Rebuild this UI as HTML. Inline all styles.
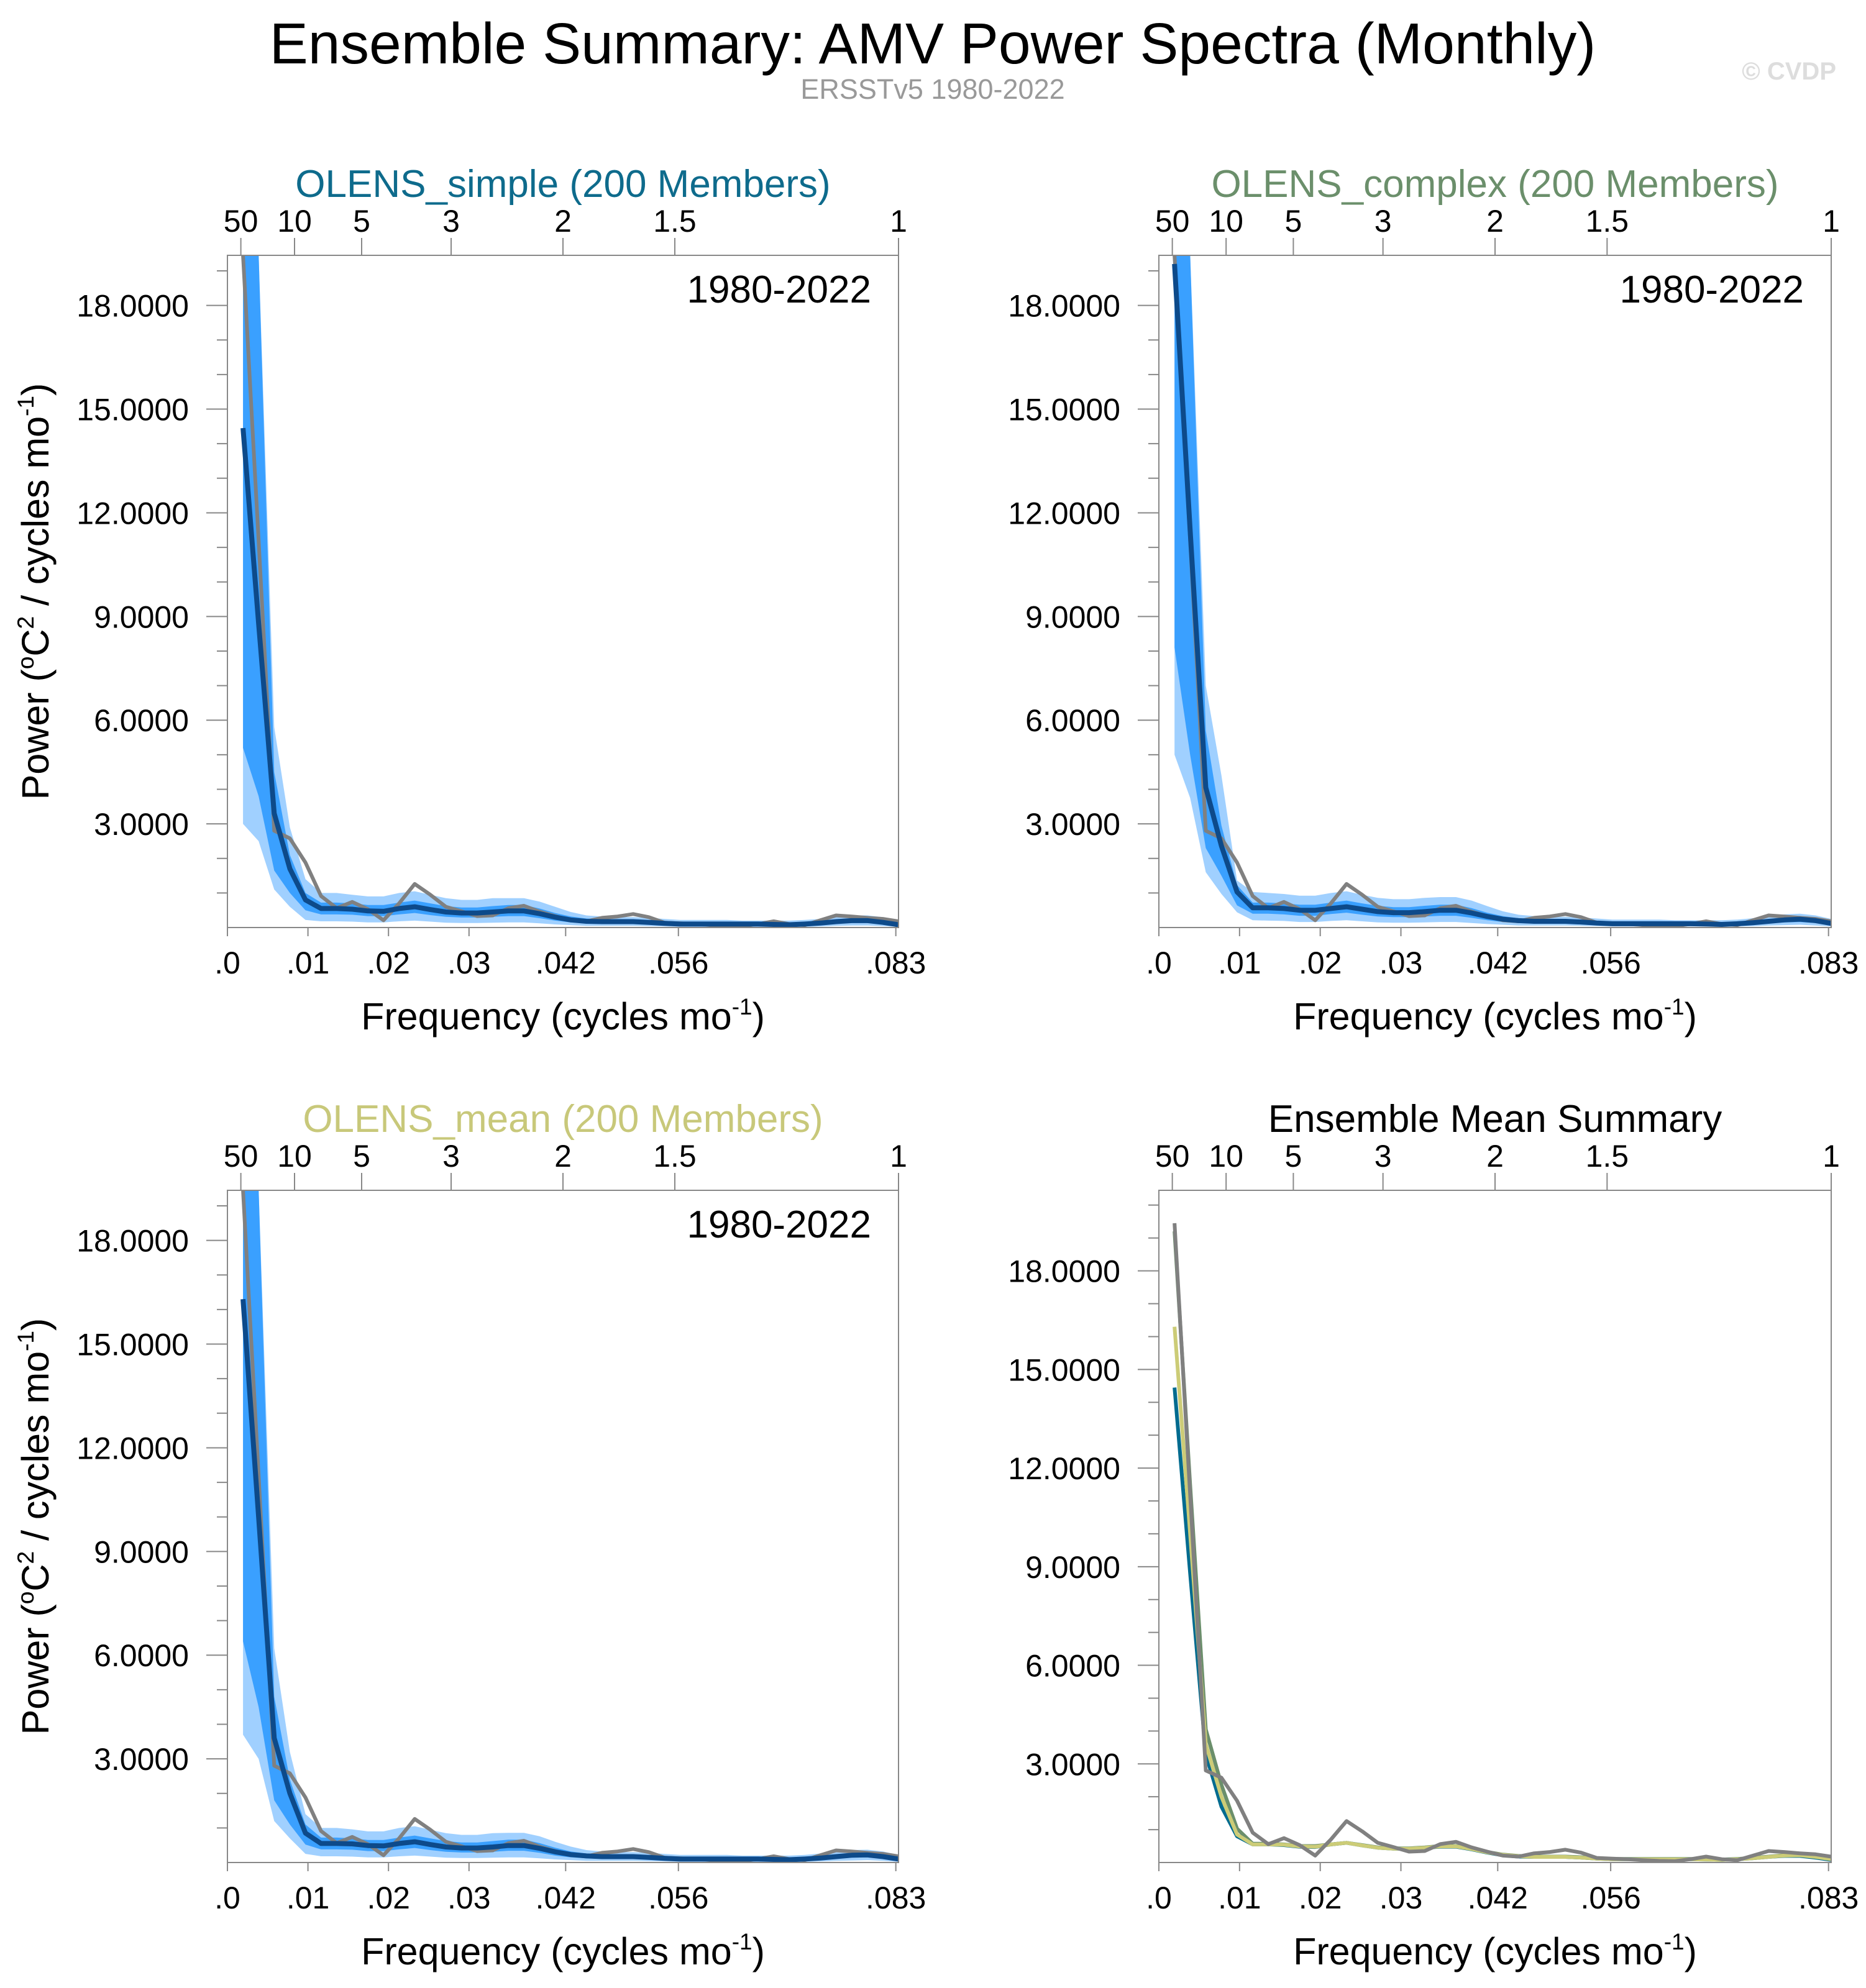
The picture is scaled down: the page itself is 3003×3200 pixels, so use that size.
<!DOCTYPE html>
<html><head><meta charset="utf-8">
<style>
html,body{margin:0;padding:0;background:#fff;}
svg{display:block;font-family:"Liberation Sans",Arial,sans-serif;}
</style></head>
<body>
<svg id="chart" width="3003" height="3200" viewBox="0 0 3003 3200" xmlns="http://www.w3.org/2000/svg">
<text x="1501" y="102" font-size="93" text-anchor="middle" fill="#000">Ensemble Summary: AMV Power Spectra (Monthly)</text>
<text x="1501" y="159" font-size="45" text-anchor="middle" fill="#999">ERSSTv5 1980-2022</text>
<text x="2955" y="128" font-size="40" font-weight="bold" text-anchor="end" fill="#ddd">© CVDP</text>
</svg>
<script>
// ---- data ----
const nPts = 43;
const fMax = 1/12;
const xTickVals = [0, 0.01, 0.02, 0.03, 0.042, 0.056, 0.083];
const xTickLabels = [".0", ".01", ".02", ".03", ".042", ".056", ".083"];
const periodTicks = [50, 10, 5, 3, 2, 1.5, 1];
const yTickVals = [3, 6, 9, 12, 15, 18];
const yTickLabels = ["3.0000", "6.0000", "9.0000", "12.0000", "15.0000", "18.0000"];

const obs = [19.45, 11.2, 2.8, 2.58, 1.88, 0.91, 0.56, 0.74, 0.53, 0.21, 0.70, 1.26, 0.95, 0.60, 0.47, 0.33, 0.35, 0.56, 0.63, 0.46, 0.33, 0.21, 0.18, 0.28, 0.32, 0.39, 0.30, 0.14, 0.12, 0.10, 0.07, 0.05, 0.04, 0.10, 0.18, 0.10, 0.07, 0.21, 0.35, 0.32, 0.28, 0.25, 0.18];

const simpleMean = [14.45, 8.8, 3.3, 1.7, 0.8, 0.55, 0.55, 0.53, 0.48, 0.47, 0.55, 0.6, 0.52, 0.45, 0.42, 0.42, 0.45, 0.48, 0.48, 0.4, 0.3, 0.22, 0.18, 0.17, 0.17, 0.17, 0.15, 0.12, 0.1, 0.1, 0.1, 0.1, 0.1, 0.1, 0.09, 0.08, 0.1, 0.13, 0.17, 0.2, 0.2, 0.15, 0.08];
const simpleP95 = [19.5, 19.5, 5.8, 2.9, 1.4, 1.0, 1.0, 0.95, 0.9, 0.9, 1.0, 1.05, 0.95, 0.85, 0.8, 0.8, 0.85, 0.85, 0.85, 0.75, 0.6, 0.45, 0.35, 0.32, 0.3, 0.3, 0.28, 0.25, 0.22, 0.22, 0.22, 0.22, 0.2, 0.2, 0.2, 0.2, 0.22, 0.25, 0.3, 0.35, 0.35, 0.3, 0.2];
const simpleP75 = [19.5, 19.5, 4.5, 2.1, 1.0, 0.72, 0.72, 0.7, 0.65, 0.65, 0.72, 0.78, 0.7, 0.62, 0.58, 0.58, 0.62, 0.65, 0.65, 0.55, 0.42, 0.32, 0.26, 0.24, 0.23, 0.23, 0.21, 0.18, 0.15, 0.15, 0.15, 0.15, 0.15, 0.15, 0.14, 0.13, 0.15, 0.18, 0.23, 0.27, 0.27, 0.22, 0.13];
const simpleP25 = [5.2, 3.8, 1.65, 1.0, 0.5, 0.38, 0.38, 0.37, 0.33, 0.33, 0.38, 0.42, 0.36, 0.31, 0.29, 0.29, 0.31, 0.33, 0.33, 0.27, 0.2, 0.15, 0.12, 0.11, 0.11, 0.11, 0.1, 0.08, 0.06, 0.06, 0.06, 0.06, 0.06, 0.06, 0.05, 0.05, 0.06, 0.08, 0.11, 0.13, 0.13, 0.1, 0.05];
const simpleP5 = [3.0, 2.5, 1.1, 0.6, 0.22, 0.18, 0.18, 0.17, 0.15, 0.15, 0.18, 0.2, 0.17, 0.14, 0.13, 0.13, 0.14, 0.15, 0.15, 0.12, 0.09, 0.07, 0.05, 0.05, 0.05, 0.05, 0.04, 0.03, 0.02, 0.02, 0.02, 0.02, 0.02, 0.02, 0.02, 0.02, 0.02, 0.03, 0.05, 0.06, 0.06, 0.04, 0.02];

const complexMean = [19.2, 11.5, 4.05, 2.36, 1.03, 0.57, 0.57, 0.55, 0.5, 0.5, 0.55, 0.6, 0.53, 0.46, 0.43, 0.43, 0.46, 0.5, 0.5, 0.42, 0.32, 0.24, 0.2, 0.18, 0.18, 0.18, 0.16, 0.13, 0.11, 0.11, 0.11, 0.11, 0.11, 0.11, 0.1, 0.09, 0.11, 0.14, 0.18, 0.22, 0.24, 0.2, 0.12];
const complexP95 = [19.5, 19.5, 7.0, 4.4, 1.36, 1.03, 1.0, 0.97, 0.92, 0.92, 1.0, 1.05, 0.95, 0.86, 0.82, 0.82, 0.86, 0.88, 0.88, 0.78, 0.62, 0.47, 0.37, 0.33, 0.31, 0.31, 0.29, 0.26, 0.23, 0.23, 0.23, 0.23, 0.21, 0.21, 0.21, 0.21, 0.23, 0.27, 0.32, 0.38, 0.4, 0.35, 0.25];
const complexP75 = [19.5, 19.5, 5.7, 2.95, 1.23, 0.72, 0.72, 0.7, 0.66, 0.66, 0.72, 0.78, 0.7, 0.63, 0.59, 0.59, 0.63, 0.66, 0.66, 0.56, 0.43, 0.33, 0.27, 0.25, 0.24, 0.24, 0.22, 0.19, 0.16, 0.16, 0.16, 0.16, 0.16, 0.16, 0.15, 0.14, 0.16, 0.19, 0.24, 0.29, 0.31, 0.26, 0.17];
const complexP25 = [8.1, 5.0, 2.3, 1.5, 0.64, 0.4, 0.4, 0.38, 0.34, 0.34, 0.39, 0.43, 0.37, 0.32, 0.3, 0.3, 0.32, 0.34, 0.34, 0.28, 0.21, 0.16, 0.13, 0.12, 0.12, 0.12, 0.11, 0.09, 0.07, 0.07, 0.07, 0.07, 0.07, 0.07, 0.06, 0.06, 0.07, 0.09, 0.12, 0.15, 0.16, 0.13, 0.07];
const complexP5 = [5.0, 3.75, 1.6, 0.97, 0.44, 0.21, 0.2, 0.19, 0.16, 0.16, 0.19, 0.21, 0.18, 0.15, 0.14, 0.14, 0.15, 0.16, 0.16, 0.13, 0.1, 0.08, 0.06, 0.06, 0.06, 0.06, 0.05, 0.04, 0.03, 0.03, 0.03, 0.03, 0.03, 0.03, 0.03, 0.03, 0.03, 0.04, 0.06, 0.07, 0.08, 0.06, 0.03];

const meanMean = [16.3, 10.0, 3.6, 2.0, 0.85, 0.55, 0.55, 0.54, 0.49, 0.48, 0.55, 0.6, 0.52, 0.45, 0.42, 0.42, 0.45, 0.49, 0.49, 0.41, 0.31, 0.23, 0.19, 0.17, 0.17, 0.17, 0.15, 0.12, 0.1, 0.1, 0.1, 0.1, 0.1, 0.1, 0.09, 0.08, 0.1, 0.13, 0.17, 0.21, 0.22, 0.17, 0.1];
const meanP95 = [19.5, 19.5, 6.2, 3.2, 1.4, 1.0, 1.0, 0.96, 0.9, 0.9, 1.0, 1.05, 0.95, 0.85, 0.8, 0.8, 0.85, 0.86, 0.86, 0.76, 0.6, 0.46, 0.36, 0.32, 0.3, 0.3, 0.28, 0.25, 0.22, 0.22, 0.22, 0.22, 0.2, 0.2, 0.2, 0.2, 0.22, 0.26, 0.31, 0.36, 0.37, 0.32, 0.22];
const meanP75 = [19.5, 19.5, 4.8, 2.4, 1.1, 0.72, 0.72, 0.7, 0.65, 0.65, 0.72, 0.78, 0.7, 0.62, 0.58, 0.58, 0.62, 0.66, 0.66, 0.56, 0.43, 0.32, 0.26, 0.24, 0.23, 0.23, 0.21, 0.18, 0.15, 0.15, 0.15, 0.15, 0.15, 0.15, 0.14, 0.13, 0.15, 0.18, 0.23, 0.28, 0.29, 0.24, 0.15];
const meanP25 = [6.4, 4.5, 1.8, 1.1, 0.52, 0.38, 0.38, 0.37, 0.33, 0.33, 0.38, 0.42, 0.36, 0.31, 0.29, 0.29, 0.31, 0.34, 0.34, 0.28, 0.2, 0.15, 0.12, 0.11, 0.11, 0.11, 0.1, 0.08, 0.06, 0.06, 0.06, 0.06, 0.06, 0.06, 0.05, 0.05, 0.06, 0.08, 0.11, 0.14, 0.15, 0.11, 0.06];
const meanP5 = [3.7, 3.0, 1.2, 0.7, 0.25, 0.18, 0.18, 0.17, 0.15, 0.15, 0.18, 0.2, 0.17, 0.14, 0.13, 0.13, 0.14, 0.15, 0.15, 0.12, 0.09, 0.07, 0.05, 0.05, 0.05, 0.05, 0.04, 0.03, 0.02, 0.02, 0.02, 0.02, 0.02, 0.02, 0.02, 0.02, 0.02, 0.03, 0.05, 0.06, 0.07, 0.05, 0.02];

// ---- drawing ----
const NS = "http://www.w3.org/2000/svg";
const svg = document.getElementById("chart");
function mk(tag, attrs, parent) {
  const e = document.createElementNS(NS, tag);
  for (const k in attrs) e.setAttribute(k, attrs[k]);
  (parent || svg).appendChild(e);
  return e;
}
const freqs = [];
for (let i = 1; i <= nPts; i++) freqs.push(i * fMax / nPts);

function panel(cfg) {
  const g = mk("g", {});
  
  
  const L = cfg.x0, R = cfg.x1, T = cfg.y0, B = cfg.y1;
  const xs = f => L + (f / fMax) * (R - L);
  const ys = v => B - (v / cfg.yMax) * (B - T);
  const cid = "clip-" + cfg.name;
  const cp = mk("clipPath", { id: cid }, g);
  mk("rect", { x: L, y: T, width: R - L, height: B - T }, cp);
  const plot = mk("g", { "clip-path": "url(#" + cid + ")" }, g);

  function band(lo, hi, color, nm) {
    let d = "";
    freqs.forEach((f, i) => { d += (i ? "L" : "M") + xs(f).toFixed(1) + "," + ys(hi[i]).toFixed(1); });
    for (let i = freqs.length - 1; i >= 0; i--) d += "L" + xs(freqs[i]).toFixed(1) + "," + ys(lo[i]).toFixed(1);
    const p = mk("path", { d: d + "Z", fill: color, stroke: "none" }, plot);
    
    
  }
  function line(vals, color, w, nm) {
    let d = "";
    freqs.forEach((f, i) => { d += (i ? "L" : "M") + xs(f).toFixed(1) + "," + ys(vals[i]).toFixed(1); });
    const p = mk("path", { d: d, fill: "none", stroke: color, "stroke-width": w, "stroke-linejoin": "round" }, plot);
    
    
  }
  if (cfg.bands) {
    band(cfg.bands.p5, cfg.bands.p95, "#a0d0ff", "band-5-95");
    band(cfg.bands.p25, cfg.bands.p75, "#3aa0ff", "band-25-75");
  }
  cfg.lines.forEach(l => line(l.vals, l.color, l.w, l.name));

  const fr = mk("rect", { x: L, y: T, width: R - L, height: B - T, fill: "none", stroke: "#888", "stroke-width": 2 }, g);
  
  
  for (let v = 1; v < cfg.yMax; v++) {
    const major = v % 3 === 0;
    mk("line", { x1: L, x2: L - (major ? 34 : 17), y1: ys(v), y2: ys(v), stroke: "#888", "stroke-width": 2 }, g);
  }
  yTickVals.forEach((v, i) => {
    const t = mk("text", { x: L - 62, y: ys(v) + 18, "font-size": 50, "text-anchor": "end", fill: "#000" }, g);
    t.textContent = yTickLabels[i];
    
    
  });
  xTickVals.forEach((v, i) => {
    mk("line", { x1: xs(v), x2: xs(v), y1: B, y2: B + 14, stroke: "#888", "stroke-width": 2 }, g);
    const t = mk("text", { x: xs(v), y: B + 74, "font-size": 50, "text-anchor": "middle", fill: "#000" }, g);
    t.textContent = xTickLabels[i];
    
    
  });
  periodTicks.forEach(p => {
    const x = xs(1 / (p * 12));
    mk("line", { x1: x, x2: x, y1: T, y2: T - 28, stroke: "#888", "stroke-width": 2 }, g);
    const t = mk("text", { x: x, y: T - 38, "font-size": 50, "text-anchor": "middle", fill: "#000" }, g);
    t.textContent = String(p);
    
    
  });
  const tt = mk("text", { x: (L + R) / 2, y: T - 94, "font-size": 62, "text-anchor": "middle", fill: cfg.titleColor }, g);
  tt.textContent = cfg.title;
  
  
  const xt = mk("text", { x: (L + R) / 2, y: B + 164, "font-size": 61, "text-anchor": "middle", fill: "#000" }, g);
  xt.innerHTML = 'Frequency (cycles mo<tspan font-size="37" dy="-24">-1</tspan><tspan dy="24">)</tspan>';
  
  
  const cy = (T + B) / 2;
  const yt = mk("text", { x: 0, y: 0, "font-size": 61, "text-anchor": "middle", fill: "#000", transform: "translate(78," + cy + ") rotate(-90)" }, g);
  yt.innerHTML = 'Power (<tspan font-size="37" dy="-24">o</tspan><tspan dy="24">C</tspan><tspan font-size="37" dy="-24">2</tspan><tspan dy="24"> / cycles mo</tspan><tspan font-size="37" dy="-24">-1</tspan><tspan dy="24">)</tspan>';
  
  
  if (cfg.period) {
    const pt = mk("text", { x: R - 44, y: T + 76, "font-size": 62, "text-anchor": "end", fill: "#000" }, g);
    pt.textContent = cfg.period;
    
    
  }
}

const OBS = "#808080", ENS = "#0d4a8a";
panel({ name: "panel-olens-simple", x0: 366, x1: 1446, y0: 411, y1: 1493, yMax: 19.45,
  title: "OLENS_simple (200 Members)", titleColor: "#0e6b8c", period: "1980-2022",
  bands: { p5: simpleP5, p25: simpleP25, p75: simpleP75, p95: simpleP95 },
  lines: [{ vals: obs, color: OBS, w: 6, name: "obs-line" }, { vals: simpleMean, color: ENS, w: 8, name: "ensemble-mean-line" }] });
panel({ name: "panel-olens-complex", x0: 1865, x1: 2947, y0: 411, y1: 1493, yMax: 19.45,
  title: "OLENS_complex (200 Members)", titleColor: "#6b8f6b", period: "1980-2022",
  bands: { p5: complexP5, p25: complexP25, p75: complexP75, p95: complexP95 },
  lines: [{ vals: obs, color: OBS, w: 6, name: "obs-line" }, { vals: complexMean, color: ENS, w: 8, name: "ensemble-mean-line" }] });
panel({ name: "panel-olens-mean", x0: 366, x1: 1446, y0: 1916, y1: 2998, yMax: 19.45,
  title: "OLENS_mean (200 Members)", titleColor: "#c8c87a", period: "1980-2022",
  bands: { p5: meanP5, p25: meanP25, p75: meanP75, p95: meanP95 },
  lines: [{ vals: obs, color: OBS, w: 6, name: "obs-line" }, { vals: meanMean, color: ENS, w: 8, name: "ensemble-mean-line" }] });
panel({ name: "panel-ensemble-mean-summary", x0: 1865, x1: 2947, y0: 1916, y1: 2998, yMax: 20.45,
  title: "Ensemble Mean Summary", titleColor: "#000",
  lines: [{ vals: complexMean, color: "#6b8f6b", w: 6, name: "complex-mean-line" },
          { vals: simpleMean, color: "#006b8f", w: 6, name: "simple-mean-line" },
          { vals: meanMean, color: "#cccc77", w: 6, name: "mean-mean-line" },
          { vals: obs, color: OBS, w: 6, name: "obs-line" }] });
</script>
</body></html>
